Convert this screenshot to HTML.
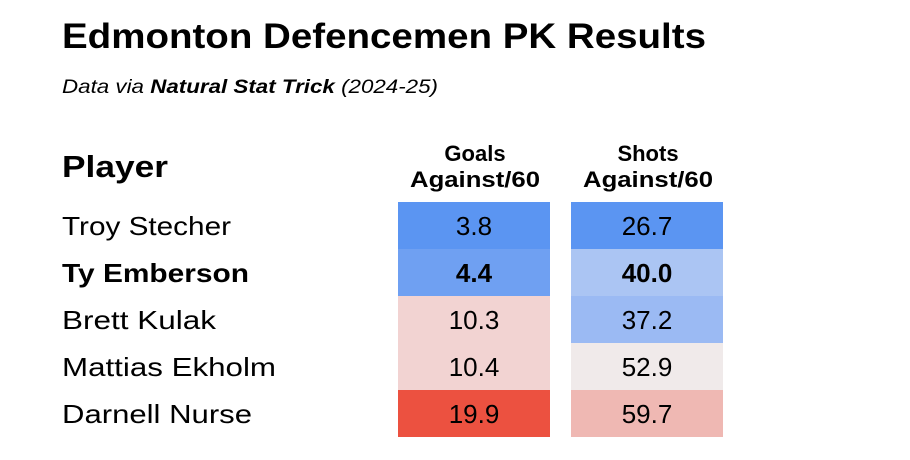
<!DOCTYPE html>
<html><head><style>body{margin:0;background:#fff}svg{display:block}</style></head><body>
<svg width="910" height="460" xmlns="http://www.w3.org/2000/svg" font-family="Liberation Sans, sans-serif">
<text x="62" y="48" font-size="35" font-weight="bold" textLength="644" lengthAdjust="spacingAndGlyphs">Edmonton Defencemen PK Results</text>
<text x="62" y="93" font-size="19" font-style="italic" textLength="376" lengthAdjust="spacingAndGlyphs">Data via <tspan font-weight="bold">Natural Stat Trick</tspan> (2024-25)</text>
<text x="62" y="177" font-size="31" font-weight="bold" textLength="106" lengthAdjust="spacingAndGlyphs">Player</text>
<g font-size="22" font-weight="bold" text-anchor="middle">
<text x="475" y="161">Goals</text><text x="475" y="187" textLength="130" lengthAdjust="spacingAndGlyphs">Against/60</text>
<text x="648" y="161">Shots</text><text x="648" y="187" textLength="130" lengthAdjust="spacingAndGlyphs">Against/60</text>
</g>
<rect x="398" y="202" width="152" height="47" fill="#5b95f2"/>
<rect x="398" y="249" width="152" height="47" fill="#6fa0f2"/>
<rect x="398" y="296" width="152" height="47" fill="#f2d3d2"/>
<rect x="398" y="343" width="152" height="47" fill="#f2d3d2"/>
<rect x="398" y="390" width="152" height="47" fill="#ec5140"/>
<rect x="571" y="202" width="152" height="47" fill="#5b95f2"/>
<rect x="571" y="249" width="152" height="47" fill="#abc5f3"/>
<rect x="571" y="296" width="152" height="47" fill="#9bbaf3"/>
<rect x="571" y="343" width="152" height="47" fill="#f0eaea"/>
<rect x="571" y="390" width="152" height="47" fill="#efb8b3"/>
<g font-size="26">
<text x="62" y="235" textLength="169" lengthAdjust="spacingAndGlyphs">Troy Stecher</text>
<text x="62" y="282" font-weight="bold" textLength="187" lengthAdjust="spacingAndGlyphs">Ty Emberson</text>
<text x="62" y="329" textLength="154" lengthAdjust="spacingAndGlyphs">Brett Kulak</text>
<text x="62" y="376" textLength="214" lengthAdjust="spacingAndGlyphs">Mattias Ekholm</text>
<text x="62" y="423" textLength="190" lengthAdjust="spacingAndGlyphs">Darnell Nurse</text>
</g>
<g font-size="26" text-anchor="middle">
<text x="474" y="235">3.8</text><text x="474" y="282" font-weight="bold">4.4</text><text x="474" y="329">10.3</text><text x="474" y="376">10.4</text><text x="474" y="423">19.9</text>
<text x="647" y="235">26.7</text><text x="647" y="282" font-weight="bold">40.0</text><text x="647" y="329">37.2</text><text x="647" y="376">52.9</text><text x="647" y="423">59.7</text>
</g>
</svg>
</body></html>
